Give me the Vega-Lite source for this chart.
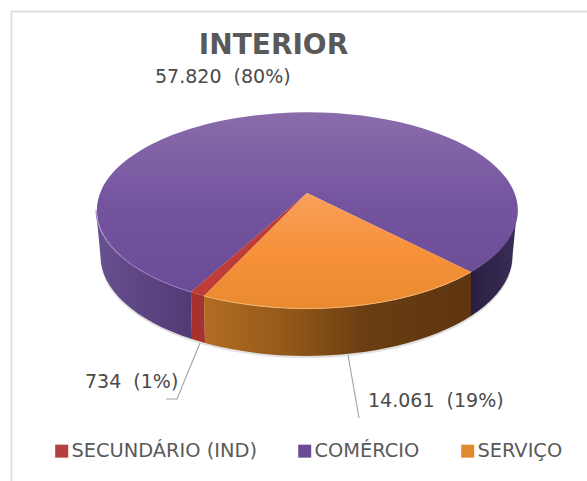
{
"$schema":"https://vega.github.io/schema/vega-lite/v6.json",
"width":587,"height":481,"padding":0,"autosize":{"type":"none"},
"background":"white",
"config":{"view":{"stroke":null},"font":"DejaVu Sans"},
"title":{"text":"INTERIOR","fontSize":28,"fontWeight":"bold","color":"#595959","font":"DejaVu Sans","anchor":"middle","dx":-20,"offset":-88,"baseline":"bottom"},
"data":{"values":[
{"setor":"SECUNDÁRIO (IND)","valor":734,"rotulo":"734\u00a0\u00a0(1%)"},
{"setor":"COMÉRCIO","valor":57820,"rotulo":"57.820\u00a0\u00a0(80%)"},
{"setor":"SERVIÇO","valor":14061,"rotulo":"14.061\u00a0\u00a0(19%)"}
]},
"layer":[
{"transform":[{"filter":"datum.setor==='COMÉRCIO'"}],"mark":{"type":"point","size":4,"filled":false,"opacity":1,"stroke":"#e0e0e0","strokeWidth":2,"fill":null,"shape":"M-282,241 L-282,-229 L294,-229"}},
{"transform":[{"filter":"datum.setor==='COMÉRCIO'"}],"mark":{"type":"point","size":4,"filled":true,"opacity":0.3,"fill":"#999999","stroke":null,"shape":"M-193,17.5 A206 100 0 0 0 219,17.5 L223,-30 L-197,-30 Z"}},
{"transform":[{"filter":"datum.setor==='COMÉRCIO'"}],"mark":{"type":"point","size":4,"filled":true,"opacity":1,"stroke":null,"fill":{"gradient":"linear","x1":0,"y1":0,"x2":1,"y2":0,"stops":[{"offset":0,"color":"#685092"},{"offset":1,"color":"#523a74"}]},"shape":"M-102.5,51.5 A210.5 98 0 0 1 -197.5,-30.5 L-193,15.5 A206 100 0 0 0 -101.5,98.6 Z"}},
{"transform":[{"filter":"datum.setor==='COMÉRCIO'"}],"mark":{"type":"point","size":4,"filled":true,"opacity":1,"stroke":null,"fill":{"gradient":"linear","x1":0,"y1":0,"x2":1,"y2":0,"stops":[{"offset":0,"color":"#2a1f40"},{"offset":1,"color":"#3a2c58"}]},"shape":"M177.5,31.5 A210.5 98 0 0 0 223.5,-30.5 L219,15.5 A206 100 0 0 1 177.5,75.5 Z"}},
{"transform":[{"filter":"datum.setor==='SECUNDÁRIO (IND)'"}],"mark":{"type":"point","size":4,"filled":true,"opacity":1,"stroke":null,"fill":"#a8302e","shape":"M-102.5,51.5 A210.5 98 0 0 0 -89.5,55.5 L-88.5,102.5 A206 100 0 0 1 -101.5,98.6 Z"}},
{"transform":[{"filter":"datum.setor==='SERVIÇO'"}],"mark":{"type":"point","size":4,"filled":true,"opacity":1,"stroke":null,"fill":{"gradient":"linear","x1":0,"y1":0,"x2":1,"y2":0,"stops":[{"offset":0,"color":"#b36d22"},{"offset":0.35,"color":"#8f5518"},{"offset":0.6,"color":"#6a3e12"},{"offset":1,"color":"#5e3510"}]},"shape":"M-89.5,55.5 A210.5 98 0 0 0 177.5,31.5 L177.5,75.5 A206 100 0 0 1 -88.5,102.5 Z"}},
{"transform":[{"filter":"datum.setor==='COMÉRCIO'"}],"mark":{"type":"point","size":4,"filled":true,"opacity":1,"stroke":null,"fill":{"gradient":"linear","x1":0,"y1":0,"x2":0,"y2":1,"stops":[{"offset":0,"color":"#8a6cab"},{"offset":0.5,"color":"#75549f"},{"offset":1,"color":"#6b4c96"}]},"shape":"M13.5,-47.5 L-102.5,51.5 A210.5 98 0 1 1 177.5,31.5 Z"}},
{"transform":[{"filter":"datum.setor==='SECUNDÁRIO (IND)'"}],"mark":{"type":"point","size":4,"filled":true,"opacity":1,"stroke":null,"fill":"#bf3d38","shape":"M13.5,-47.5 L-102.5,51.5 A210.5 98 0 0 0 -89.5,55.5 Z"}},
{"transform":[{"filter":"datum.setor==='SERVIÇO'"}],"mark":{"type":"point","size":4,"filled":true,"opacity":1,"stroke":null,"fill":{"gradient":"linear","x1":0,"y1":0,"x2":0,"y2":1,"stops":[{"offset":0,"color":"#f8a05c"},{"offset":0.5,"color":"#f7913a"},{"offset":1,"color":"#e98a2f"}]},"shape":"M13.5,-47.5 L-89.5,55.5 A210.5 98 0 0 0 177.5,31.5 Z"}},
{"transform":[{"filter":"datum.setor==='SERVIÇO'"}],"mark":{"type":"point","size":4,"filled":false,"opacity":1,"fill":null,"stroke":"#f9b56e","strokeWidth":1,"shape":"M-89.5,55.5 A210.5 98 0 0 0 177.5,31.5"}},
{"transform":[{"filter":"datum.setor==='COMÉRCIO'"}],"mark":{"type":"point","size":4,"filled":false,"opacity":1,"fill":null,"stroke":"#9a7fc0","strokeWidth":1,"shape":"M-102.5,51.5 A210.5 98 0 0 1 -197.5,-30.5"}},
{"transform":[{"filter":"datum.setor==='SECUNDÁRIO (IND)'"}],"mark":{"type":"point","size":4,"filled":false,"opacity":1,"fill":null,"stroke":"#a6a6a6","strokeWidth":1.2,"shape":"M-93.5,102.5 L-116.5,158.5 L-127.5,158.5"}},
{"transform":[{"filter":"datum.setor==='SERVIÇO'"}],"mark":{"type":"point","size":4,"filled":false,"opacity":1,"fill":null,"stroke":"#a6a6a6","strokeWidth":1.2,"shape":"M54.5,114.5 L65.5,177.5"}},
{"transform":[{"filter":"datum.setor==='COMÉRCIO'"}],"mark":{"type":"text","align":"left","baseline":"alphabetic","dx":-138.5,"dy":-157.8,"fontSize":19,"color":"#4a4a4a"},"encoding":{"text":{"field":"rotulo"}}},
{"transform":[{"filter":"datum.setor==='SECUNDÁRIO (IND)'"}],"mark":{"type":"text","align":"left","baseline":"alphabetic","dx":-208.5,"dy":147.5,"fontSize":19,"color":"#4a4a4a"},"encoding":{"text":{"field":"rotulo"}}},
{"transform":[{"filter":"datum.setor==='SERVIÇO'"}],"mark":{"type":"text","align":"left","baseline":"alphabetic","dx":74.5,"dy":166.5,"fontSize":19,"color":"#4a4a4a"},"encoding":{"text":{"field":"rotulo"}}},
{"mark":{"type":"square","size":0,"opacity":1},"encoding":{"color":{"field":"setor","type":"nominal","scale":{"domain":["SECUNDÁRIO (IND)","COMÉRCIO","SERVIÇO"],"range":["#b5403f","#6a4c93","#e08a30"]},"legend":{"title":null,"orient":"none","legendX":52,"legendY":441,"direction":"horizontal","columns":3,"gridAlign":"each","columnPadding":38,"symbolType":"square","symbolSize":169,"symbolStrokeWidth":0,"labelFontSize":19.4,"labelFont":"DejaVu Sans","labelColor":"#595959","labelOffset":0,"labelLimit":300,"padding":0}}}}
]
}
